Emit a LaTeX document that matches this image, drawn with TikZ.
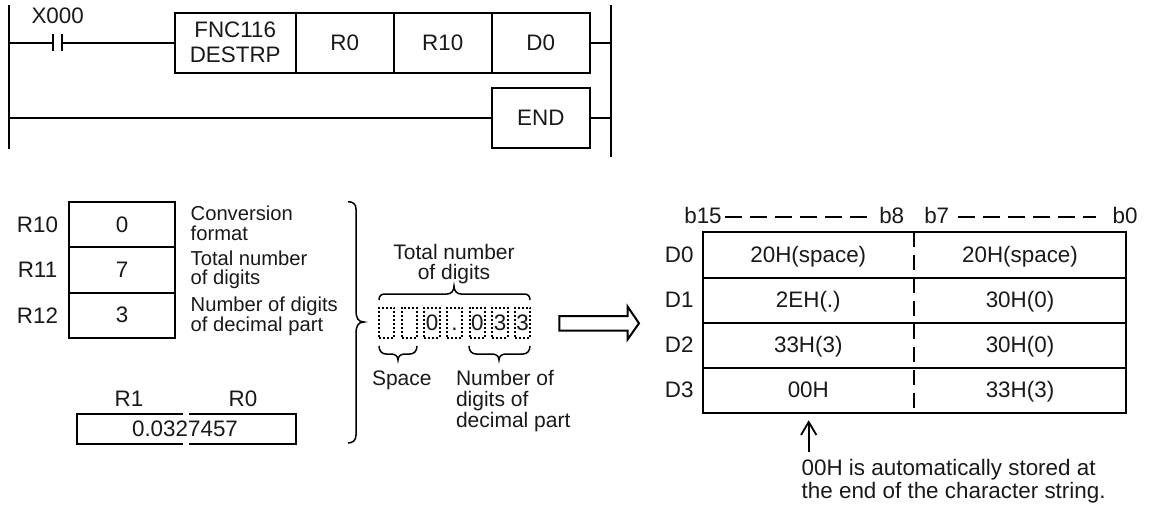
\documentclass[tikz,border=0pt]{standalone}
\usepackage{fontspec}
\setmainfont{Liberation Sans}
\tikzset{
  x=1pt,y=-1pt,
  every node/.style={font=\fontsize{22.4}{25}\selectfont,inner sep=0pt,outer sep=0pt,text=black!90},
  wire/.style={line width=2pt,draw=black},
  cell/.style={draw=black,line width=2pt,rectangle,minimum width=#1,align=center},
  txt/.style={anchor=base},
  ltxt/.style={anchor=base west},
  note/.style={anchor=base west,font=\fontsize{20.2}{22}\selectfont},
  midtxt/.style={font=\fontsize{21}{24}\selectfont},
  dig/.style={draw=black,line width=1.8pt,dash pattern=on 2pt off 2pt,rectangle,minimum width=15.3pt,minimum height=30pt},
  brc/.style={line width=1.5pt,draw=black}
}
\begin{document}
\begin{tikzpicture}
\useasboundingbox (0,0) rectangle (1152,507);
% ladder
\coordinate (railLT) at (9,5);
\coordinate (railLB) at (9,148.5);
\coordinate (railRT) at (611,5);
\coordinate (railRB) at (611,157);
\draw[wire] (railLT) -- (railLB);
\draw[wire] (railRT) -- (railRB);
\node[cell=121pt,minimum height=60pt] (fnc) at (235.2,42.7) {\raisebox{-2.5pt}{FNC116}\\\raisebox{-2.5pt}{DESTRP}};
\node[cell=98pt,minimum height=60pt] (r0) at (344.7,42.7) {R0};
\node[cell=98pt,minimum height=60pt] (r10) at (442.7,42.7) {R10};
\node[cell=98.3pt,minimum height=60pt] (d0) at (540.8,42.7) {D0};
\node[cell=98.3pt,minimum height=60.3pt] (endb) at (540.8,118) {END};
\node (x000) at (57.7,15.5) {X000};
\coordinate (cl) at (53.4,42.7);
\coordinate (cr) at (62.3,42.7);
\coordinate (railL1) at (9,42.7);
\coordinate (railR1) at (611,42.7);
\coordinate (railL2) at (9,118);
\coordinate (railR2) at (611,118);
\draw[wire] (railL1) -- (cl);
\draw[wire] (cl) ++(0,-8.5) -- ++(0,17);
\draw[wire] (cr) ++(0,-8.5) -- ++(0,17);
\draw[wire] (cr) -- (fnc.west);
\draw[wire] (d0.east) -- (railR1);
\draw[wire] (railL2) -- (endb.west);
\draw[wire] (endb.east) -- (railR2);
% left registers
\node[cell=106pt,minimum height=45pt] (c0) at (122,224.5) {0};
\node[cell=106pt,minimum height=46pt] (c7) at (122,269.7) {7};
\node[cell=106pt,minimum height=45pt] (c3) at (122,315.2) {3};
\node (l10) at (37.5,224.5) {R10};
\node (l11) at (37.5,269.7) {R11};
\node (l12) at (37.5,315.2) {R12};
\node[note] (t1) at (190.7,220) {Conversion};
\node[note] (t2) at (190.7,240) {format};
\node[note] (t3) at (190.7,265) {Total number};
\node[note] (t4) at (190.7,284) {of digits};
\node[note] (t5) at (190.7,311) {Number of digits};
\node[note] (t6) at (190.7,331) {of decimal part};
\node (lr1) at (129,399) {R1};
\node (lr0) at (243,399) {R0};
\coordinate (ba) at (183.3,414);
\coordinate (bb) at (77.3,414);
\coordinate (bc) at (77.3,444);
\coordinate (bd) at (183.3,444);
\coordinate (be) at (189.3,414);
\coordinate (bf) at (295.7,414);
\coordinate (bg) at (295.7,444);
\coordinate (bh) at (189.3,444);
\draw[wire] (ba) -- (bb) -- (bc) -- (bd);
\draw[wire] (be) -- (bf) -- (bg) -- (bh);
\node (val) at (185,429) {0.0327457};
% big brace
\draw[brc] (348,201.7) .. controls (353,201.7) and (356,204) .. (356,209) -- (356,310) .. controls (356,318) and (358,322) .. (364,322) .. controls (358,322) and (356,326) .. (356,334) -- (356,435) .. controls (356,440) and (353,443) .. (348,443);
% digits
\node[txt,midtxt] (tt1) at (454,259) {Total number};
\node[txt,midtxt] (tt2) at (454,279) {of digits};
\draw[brc] (379,300) .. controls (379,296) and (381,294) .. (385,294) -- (447,294) .. controls (451,294) and (454,291) .. (454,286) .. controls (454,291) and (457,294) .. (461,294) -- (524,294) .. controls (528,294) and (530,296) .. (530,300);
\node[dig] (d1) at (386.6,322.7) {};
\node[dig] (d2) at (409.3,322.7) {};
\node[dig] (d3) at (432,322.7) {0};
\node[dig] (d4) at (454.6,322.7) {\vphantom{0}.};
\node[dig] (d5) at (477.3,322.7) {0};
\node[dig] (d6) at (500,322.7) {3};
\node[dig] (d7) at (522.6,322.7) {3};
\draw[brc] (379,346) .. controls (379,351) and (382,354) .. (386,354) -- (391,354) .. controls (395,354) and (398,356) .. (398,360) .. controls (398,356) and (401,354) .. (405,354) -- (410,354) .. controls (414,354) and (417,351) .. (417,346);
\draw[brc] (469,346) .. controls (469,351) and (472,354) .. (476,354) -- (492,354) .. controls (496,354) and (499,356) .. (499,360) .. controls (499,356) and (502,354) .. (506,354) -- (523,354) .. controls (527,354) and (530,351) .. (530,346);
\node[ltxt,midtxt] (sp) at (372,385) {Space};
\node[ltxt,midtxt] (n1) at (456,385) {Number of};
\node[ltxt,midtxt] (n2) at (456,406) {digits of};
\node[ltxt,midtxt] (n3) at (456,427) {decimal part};
% block arrow
\draw[line width=2pt,draw=black,miter limit=10] (559.3,316) -- (627.7,316) -- (627.7,306.7) -- (639,323.3) -- (627.7,339.3) -- (627.7,330.7) -- (559.3,330.7) -- cycle;
% table
\node[txt] (b15) at (703,223) {b15};
\node[txt] (b8) at (891.7,223) {b8};
\node[txt] (b7) at (936.7,223) {b7};
\node[txt] (b0) at (1125,223) {b0};
\tikzset{bitdash/.style={line width=1.6pt,draw=black,dash pattern=on 16.7pt off 8.3pt}}
\coordinate (da) at (725,216.7);
\coordinate (db) at (867,216.7);
\coordinate (dc) at (958,216.7);
\coordinate (dd) at (1096,216.7);
\draw[bitdash] (da) -- (db);
\draw[bitdash] (dc) -- (dd);
\node[cell=423.3pt,minimum height=46pt] (row0) at (914.3,255) {};
\node[cell=423.3pt,minimum height=44.7pt] (row1) at (914.3,300.3) {};
\node[cell=423.3pt,minimum height=45pt] (row2) at (914.3,345.2) {};
\node[cell=423.3pt,minimum height=45.3pt] (row3) at (914.3,390.3) {};
\draw[line width=1.8pt,draw=black,dash pattern=on 15pt off 8pt] (row0.north) -- (row3.south);
\node[txt] (n00) at (808.3,262) {20H(space)};
\node[txt] (n01) at (1020,262) {20H(space)};
\node[txt] (n10) at (808.3,307) {2EH(.)};
\node[txt] (n11) at (1020,307) {30H(0)};
\node[txt] (n20) at (808.3,352.7) {33H(3)};
\node[txt] (n21) at (1020,352.7) {30H(0)};
\node[txt] (n30) at (808.3,397) {00H};
\node[txt] (n31) at (1020,397) {33H(3)};
\node[txt] (ld0) at (679.3,262) {D0};
\node[txt] (ld1) at (679.3,307) {D1};
\node[txt] (ld2) at (679.3,352.7) {D2};
\node[txt] (ld3) at (679.3,397) {D3};
\coordinate (up0) at (808.7,451.7);
\coordinate (up1) at (808.7,422);
\draw[wire] (up0) -- (up1);
\draw[line width=1.8pt,draw=black] (801,435) -- (up1) -- (816.4,435);
\node[ltxt] (note1) at (801.7,475.7) {00H is automatically stored at};
\node[ltxt] (note2) at (801.7,498.3) {the end of the character string.};
\end{tikzpicture}
\end{document}
